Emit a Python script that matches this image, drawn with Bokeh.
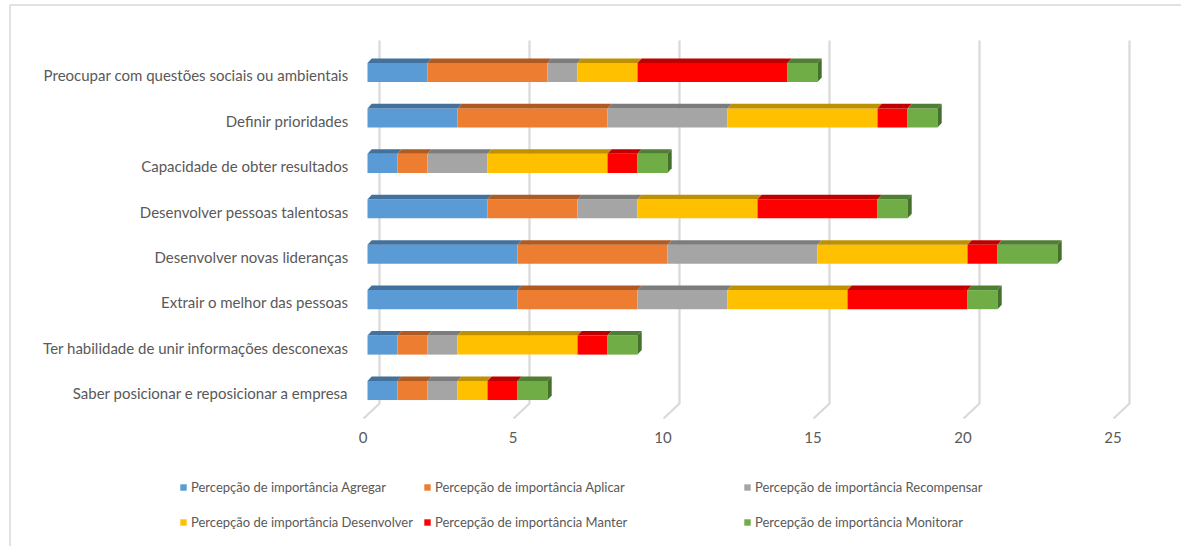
import numpy as np
from bokeh.plotting import figure
from bokeh.models import ColumnDataSource, Legend, LegendItem, Range1d
from bokeh.core.properties import value
from bokeh.embed import file_html
from bokeh.resources import INLINE

# ---- data ----
categories = [
    "Saber posicionar e reposicionar a empresa",
    "Ter habilidade de unir informações desconexas",
    "Extrair o melhor das pessoas",
    "Desenvolver novas lideranças",
    "Desenvolver pessoas talentosas",
    "Capacidade de obter resultados",
    "Definir prioridades",
    "Preocupar com questões sociais ou ambientais",
]
series_names = [
    "Percepção de importância Agregar",
    "Percepção de importância Aplicar",
    "Percepção de importância Recompensar",
    "Percepção de importância Desenvolver",
    "Percepção de importância Manter",
    "Percepção de importância Monitorar",
]
agregar = [1, 1, 5, 5, 4, 1, 3, 2]
aplicar = [1, 1, 4, 5, 3, 1, 5, 4]
recompensar = [1, 1, 3, 5, 2, 2, 4, 1]
desenvolver = [1, 4, 4, 5, 4, 4, 5, 2]
manter = [1, 1, 4, 1, 4, 1, 1, 5]
monitorar = [1, 1, 1, 2, 1, 1, 1, 1]
x_ticks = [0, 5, 10, 15, 20, 25]

# ---- style / layout ----
W, H = 1181, 546
PXX, PXY = 30.0, 45.43        # pixels per x unit / per category
X0PX, Y0PX = 367, 390         # pixel position of x=0 and of first category
front_colors = ["#5b9bd5", "#ed7d31", "#a5a5a5", "#ffc000", "#ff0000", "#70ad47"]
top_colors = ["#41719c", "#ae5a21", "#7c7c7c", "#bf9000", "#c00000", "#507e32"]
end_color = "#44702b"
FONT = "Lato"
TXT = "#595959"
GRID = "#d9d9d9"
half_h = 0.21
dx = 0.14
dy = 0.1
legend_cols_px = [179, 423, 743]   # left edge of each legend column

def xd(px):
    return (px - X0PX) / PXX

def yd(py):
    return (Y0PX - py) / PXY

p = figure(width=W, height=H, output_backend="svg", toolbar_location=None,
           x_range=Range1d(xd(0), xd(W)), y_range=Range1d(yd(H), yd(0)),
           min_border=0)
p.outline_line_color = None
p.axis.visible = False
p.grid.visible = False

# chart-area border (top + left)
p.line([xd(9.5), xd(9.5), xd(W + 5)], [yd(H + 5), yd(4.5), yd(4.5)],
       line_color=GRID, line_width=1.5)

# 3D-looking gridlines (back wall + floor)
gx, gy = [], []
for t in x_ticks:
    gx.append([t + 0.4, t + 0.4, t - 0.13])
    gy.append([yd(40), yd(403), yd(418)])
p.multi_line(gx, gy, line_color=GRID, line_width=2.2)

# x tick labels
p.text(x=[t - 0.15 for t in x_ticks], y=[yd(437)] * len(x_ticks),
       text=[str(t) for t in x_ticks], text_align="center", text_baseline="middle",
       text_font=value(FONT), text_font_size="15px", text_color=TXT)

# category labels
ypos = np.arange(len(categories))
p.text(x=[xd(348)] * len(categories), y=ypos - 0.06, text=categories,
       text_align="right", text_baseline="middle",
       text_font=value(FONT), text_font_size="15px", text_color=TXT)

series = [agregar, aplicar, recompensar, desenvolver, manter, monitorar]
left = np.zeros(len(categories))
renderers = []
for i, vals in enumerate(series):
    vals = np.array(vals, dtype=float)
    right = left + vals
    src = ColumnDataSource(dict(y=ypos, left=left.copy(), right=right.copy()))
    r = p.hbar(y="y", left="left", right="right", height=2 * half_h, source=src,
               fill_color=front_colors[i], line_color=None)
    renderers.append(r)
    xs, ys = [], []
    for k in range(len(categories)):
        l, rr, yc = left[k], right[k], ypos[k]
        xs.append([l, rr, rr + dx, l + dx])
        ys.append([yc + half_h, yc + half_h, yc + half_h + dy, yc + half_h + dy])
    p.patches(xs, ys, fill_color=top_colors[i], line_color=None)
    left = right

# right end faces
ex, ey = [], []
for k in range(len(categories)):
    rr, yc = left[k], ypos[k]
    ex.append([rr, rr + dx, rr + dx, rr])
    ey.append([yc - half_h, yc - half_h + dy, yc + half_h + dy, yc + half_h])
p.patches(ex, ey, fill_color=end_color, line_color=None)

# legend: 2 rows x 3 columns (row-major order as in the original)
for c in range(3):
    idx = [c, c + 3]
    items = [LegendItem(label=series_names[i], renderers=[renderers[i]]) for i in idx]
    lg = Legend(items=items, location=(legend_cols_px[c], 14),
                glyph_width=8, glyph_height=8, label_standoff=4,
                label_text_font=FONT, label_text_font_size="13px",
                label_text_color=TXT, label_height=20, spacing=15,
                padding=0, margin=0, border_line_color=None,
                background_fill_alpha=0)
    p.add_layout(lg, "center")

open("out.html", "w").write(file_html(p, INLINE))
